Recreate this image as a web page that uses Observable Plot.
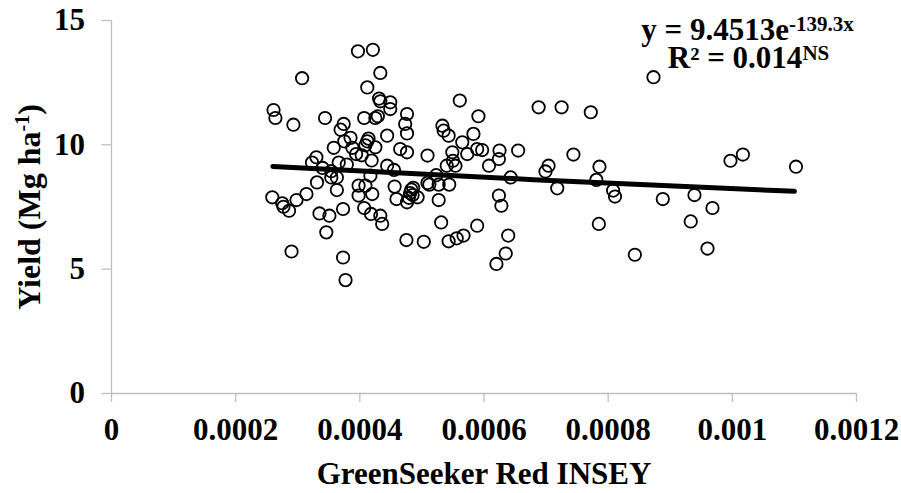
<!DOCTYPE html>
<html>
<head>
<meta charset="utf-8">
<script src="https://cdn.jsdelivr.net/npm/d3@7"></script>
<script src="https://cdn.jsdelivr.net/npm/@observablehq/plot@0.6"></script>
<style>
  html, body { margin: 0; padding: 0; background: #ffffff; }
  #chart { width: 901px; height: 493px; }
</style>
</head>
<body>
<div id="chart"></div>
<script>
// ---- data ----
const insey = [
  0.000259, 0.000261, 0.000264, 0.000275, 0.000277, 0.000286, 0.000290, 0.000293, 0.000298, 0.000307,
  0.000314, 0.000323, 0.000330, 0.000331, 0.000335, 0.000340, 0.000344, 0.000346, 0.000351, 0.000354,
  0.000358, 0.000354, 0.000363, 0.000366, 0.000369, 0.000373, 0.000373, 0.000374, 0.000377, 0.000375,
  0.000379, 0.000385, 0.000388, 0.000394, 0.000397, 0.000398, 0.000398, 0.000403, 0.000407, 0.000407,
  0.000409, 0.000412, 0.000412, 0.000414, 0.000417, 0.000419, 0.000420, 0.000421, 0.000418, 0.000425,
  0.000429, 0.000431, 0.000433, 0.000433, 0.000425, 0.000433, 0.000436, 0.000444, 0.000444, 0.000449,
  0.000449, 0.000455, 0.000456, 0.000459, 0.000465, 0.000476, 0.000473, 0.000476, 0.000476, 0.000475,
  0.000476, 0.000479, 0.000481, 0.000483, 0.000485, 0.000486, 0.000493, 0.000503, 0.000509, 0.000509,
  0.000512, 0.000523, 0.000527, 0.000527, 0.000533, 0.000531, 0.000535, 0.000543, 0.000540, 0.000544,
  0.000543, 0.000549, 0.000554, 0.000556, 0.000561, 0.000567, 0.000565, 0.000573, 0.000583, 0.000589,
  0.000591, 0.000589, 0.000597, 0.000608, 0.000620, 0.000624, 0.000624, 0.000625, 0.000628, 0.000635,
  0.000639, 0.000643, 0.000655, 0.000688, 0.000699, 0.000704, 0.000718, 0.000725, 0.000744, 0.000772,
  0.000781, 0.000786, 0.000785, 0.000808, 0.000811, 0.000843, 0.000873, 0.000888, 0.000933, 0.000939,
  0.000960, 0.000968, 0.000997, 0.001017, 0.0011025, 0.000363, 0.000409, 0.000550
];
const yieldMg = [
  7.89, 11.40, 11.08, 7.65, 7.51, 7.35, 5.71, 10.81, 7.78, 12.68,
  8.02, 9.29, 9.50, 8.49, 7.24, 9.07, 11.08, 6.48, 7.15, 8.94,
  9.88, 8.69, 8.18, 9.29, 10.61, 7.42, 5.47, 10.84, 4.56, 10.14,
  9.21, 10.28, 9.88, 9.63, 13.76, 8.36, 7.96, 9.58, 7.46, 11.08,
  9.98, 10.14, 12.31, 10.25, 8.76, 9.37, 8.02, 13.82, 7.22, 9.90,
  11.15, 11.86, 12.89, 11.75, 11.08, 7.15, 6.82, 9.16, 10.37, 11.71,
  11.44, 8.99, 8.32, 7.82, 9.83, 11.24, 10.84, 10.46, 9.70, 6.17,
  7.69, 7.87, 8.06, 8.20, 7.98, 8.27, 7.89, 6.10, 8.47, 9.57,
  8.40, 8.78, 8.40, 7.78, 10.77, 6.88, 10.57, 10.37, 9.16, 8.40,
  6.12, 9.70, 9.16, 6.24, 11.78, 6.35, 10.10, 9.63, 10.44, 6.75,
  11.15, 9.83, 9.79, 9.16, 5.21, 7.96, 9.43, 9.77, 7.55, 5.63,
  6.35, 8.69, 9.77, 11.51, 8.93, 9.16, 8.25, 11.51, 9.61, 11.31,
  8.59, 9.12, 6.82, 8.16, 7.92, 5.58, 12.72, 7.82, 6.92, 7.98,
  5.83, 7.46, 9.36, 9.61, 9.12, 8.69, 8.36, 9.36
];
// exponential trend line (y = 9.4513e^-139.3x), read at its ends and middle
const trendX = [0.00026, 0.00068, 0.0011];
const trendY = [9.13, 8.60, 8.13];

const xTicks = [0, 0.0002, 0.0004, 0.0006, 0.0008, 0.001, 0.0012];
const xTickLabels = ["0", "0.0002", "0.0004", "0.0006", "0.0008", "0.001", "0.0012"];
const yTicks = [0, 5, 10, 15];
const yTickLabels = ["0", "5", "10", "15"];

const xTitle = "GreenSeeker Red INSEY";
const yTitle = "Yield (Mg ha-1)";
const eqText = "y = 9.4513e-139.3x";
const r2Text = "R² = 0.014NS";

// ---- build tables ----
const points = insey.map((x, i) => ({x, y: yieldMg[i]}));
const trend = trendX.map((x, i) => ({x, y: trendY[i]}));
const xLab = new Map(xTicks.map((t, i) => [t, xTickLabels[i]]));
const yLab = new Map(yTicks.map((t, i) => [t, yTickLabels[i]]));

const font = "'Liberation Serif', 'Times New Roman', serif";
const axisGray = "#bfbfbf";

const svg = Plot.plot({
  width: 901,
  height: 493,
  marginLeft: 111,
  marginRight: 45,
  marginTop: 20,
  marginBottom: 100,
  style: {fontFamily: font, fontWeight: "bold", fontSize: "31px", color: "black", background: "white", overflow: "visible"},
  x: {domain: [0, 0.0012], label: null},
  y: {domain: [0, 15], label: null},
  marks: [
    Plot.ruleX([0], {stroke: axisGray, strokeWidth: 1.3}),
    Plot.ruleY([0], {stroke: axisGray, strokeWidth: 1.3}),
    Plot.axisX({ticks: xTicks, tickFormat: d => xLab.get(d), tickSize: 9, tickPadding: 15,
                stroke: axisGray, strokeWidth: 1.3, fill: "black", label: null, fontSize: 31}),
    Plot.axisY({ticks: yTicks, tickFormat: d => yLab.get(d), tickSize: 9.5, tickPadding: 17,
                stroke: axisGray, strokeWidth: 1.3, fill: "black", label: null, fontSize: 31}),
    Plot.dot(points, {x: "x", y: "y", r: 6.2, stroke: "black", strokeWidth: 1.8, fill: "none"}),
    Plot.line(trend, {x: "x", y: "y", stroke: "black", strokeWidth: 5, strokeLinecap: "round"}),
    Plot.text([yTitle], {frameAnchor: "left", dx: -82, rotate: -90, fontSize: 32, fill: "black",
                         textAnchor: "middle", lineAnchor: "middle"}),
    Plot.text([xTitle], {frameAnchor: "bottom", dy: 81, fontSize: 31, fill: "black",
                         textAnchor: "middle", lineAnchor: "middle"}),
    Plot.text([eqText], {frameAnchor: "top-left", dx: 636, dy: 10, fontSize: 31, fill: "black",
                         textAnchor: "middle", lineAnchor: "middle"}),
    Plot.text([r2Text], {frameAnchor: "top-left", dx: 637, dy: 38, fontSize: 31, fill: "black",
                         textAnchor: "middle", lineAnchor: "middle"})
  ]
});

// superscripts as real text (tspans)
function superscript(el, base, sup, after, baseSize, supSize, raise) {
  const t = d3.select(el);
  t.text(null);
  t.append("tspan").text(base);
  t.append("tspan").attr("font-size", supSize).attr("dy", -raise).text(sup);
  if (after) t.append("tspan").attr("font-size", baseSize).attr("dy", raise).text(after);
}
d3.select(svg).selectAll("text").each(function () {
  const s = this.textContent;
  if (s === yTitle) superscript(this, "Yield (Mg ha", "-1", ")", 32, 20, 11);
  else if (s === eqText) superscript(this, "y = 9.4513e", "-139.3x", null, 31, 21, 9);
  else if (s === r2Text) superscript(this, "R² = 0.014", "NS", null, 31, 21, 8);
});

document.getElementById("chart").appendChild(svg);
</script>
</body>
</html>
